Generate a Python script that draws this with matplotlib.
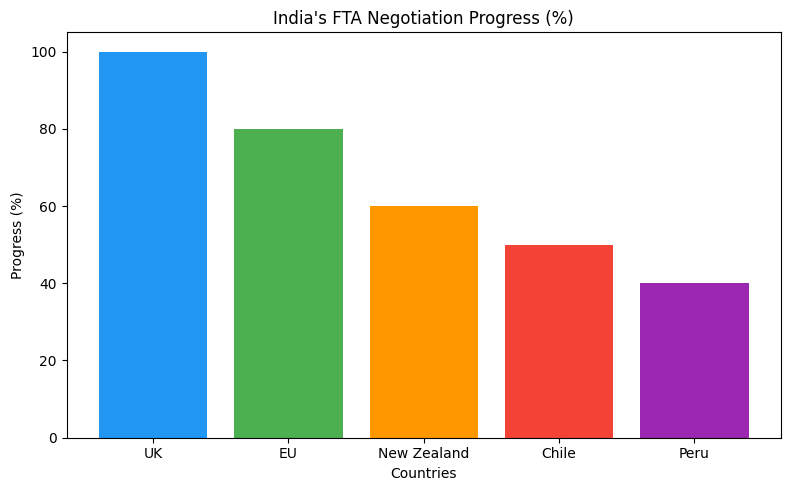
import matplotlib
matplotlib.use("Agg")
import matplotlib.pyplot as plt

# FTA negotiation progress
countries = ["UK", "EU", "New Zealand", "Chile", "Peru"]
progress = [100, 80, 60, 50, 40]
bar_colors = ["#2196F3", "#4CAF50", "#FF9800", "#F44336", "#9C27B0"]

fig, ax = plt.subplots(figsize=(7.9, 4.9), dpi=100)

ax.bar(countries, progress, color=bar_colors)

ax.set_title("India's FTA Negotiation Progress (%)")
ax.set_xlabel("Countries")
ax.set_ylabel("Progress (%)")

# axes box placed to match the reference frame
fig.subplots_adjust(left=0.0842, right=0.9886, top=0.9337, bottom=0.1071)
fig.savefig("out.png", dpi=100)
